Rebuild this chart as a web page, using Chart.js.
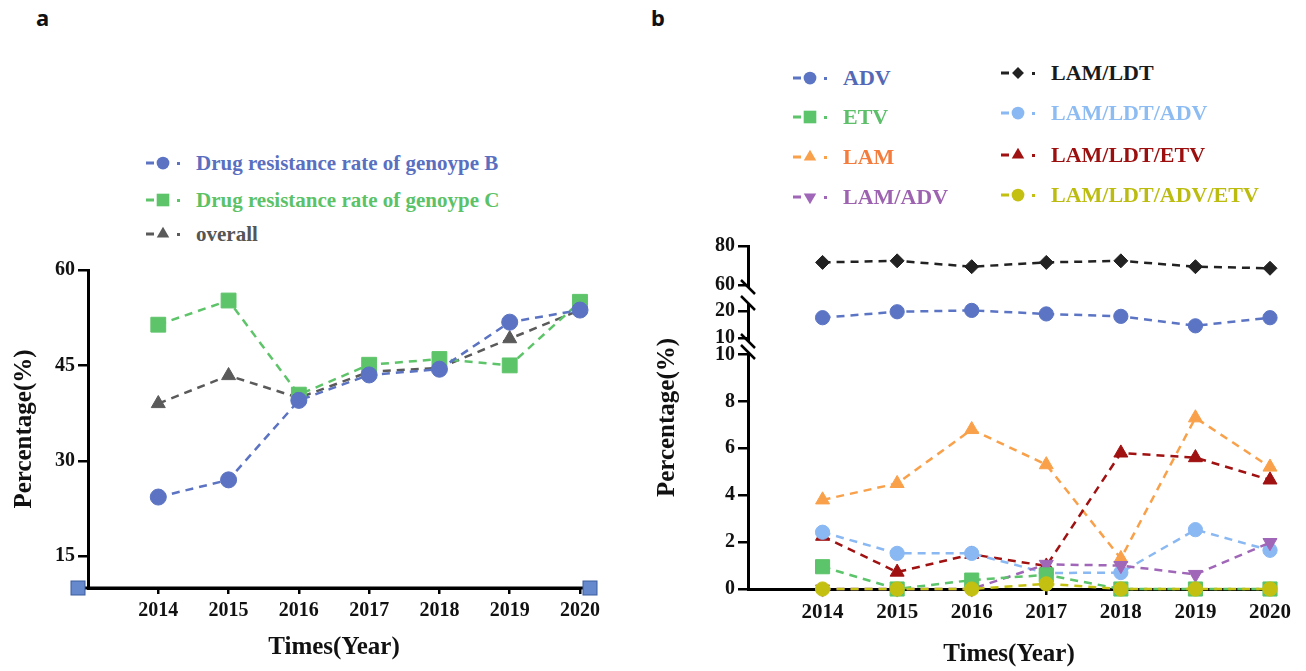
<!DOCTYPE html>
<html>
<head>
<meta charset="utf-8">
<script src="https://cdn.jsdelivr.net/npm/chart.js@4.4.0/dist/chart.umd.min.js"></script>
<style>
  body { margin: 0; width: 1306px; height: 671px; background: #fff; position: relative; overflow: hidden; font-family: "Liberation Serif", "Times New Roman", serif; }
  canvas { position: absolute; }
  .tag { position: absolute; font-family: "Noto Sans", sans-serif; font-weight: bold; font-size: 22px; color: #111; }
  .item { position: absolute; height: 28px; display: flex; align-items: center; white-space: nowrap; font-weight: bold; }
  .item canvas { position: static; margin-right: 4px; }
</style>
</head>
<body>
<div class="tag" style="left:36px;top:2px">a</div>
<div class="tag" style="left:651px;top:2px">b</div>
<canvas id="chartA" width="620" height="421" style="left:0;top:250px"></canvas>
<canvas id="chartB" width="666" height="446" style="left:640px;top:225px"></canvas>
<div id="legendA"></div>
<div id="legendB"></div>
<script>
// x categories (years)
const years = [2014, 2015, 2016, 2017, 2018, 2019, 2020];

// panel a
const genotypeB = [24.3, 27.0, 39.5, 43.5, 44.4, 51.8, 53.7];
const genotypeC = [51.4, 55.2, 40.4, 45.1, 46.0, 45.0, 55.0];
const overall = [39.0, 43.4, 39.9, 44.0, 44.6, 49.2, 53.7];
const yTicksA = [15, 30, 45, 60];

// panel b
const adv = [17.5, 19.7, 20.2, 18.9, 18.0, 14.5, 17.5];
const etv = [0.95, 0, 0.38, 0.6, 0, 0, 0];
const lam = [3.8, 4.5, 6.8, 5.3, 1.3, 7.3, 5.2];
const lamAdv = [0, 0, 0, 1.05, 1.0, 0.62, 1.98];
const lamLdt = [71.6, 72.4, 69.4, 71.6, 72.4, 69.4, 68.6];
const lamLdtAdv = [2.42, 1.52, 1.52, 0.68, 0.7, 2.53, 1.65];
const lamLdtEtv = [2.25, 0.72, 1.48, 0.98, 5.8, 5.6, 4.65];
const lamLdtAdvEtv = [0, 0, 0, 0.22, 0, 0, 0];
const yTicksTop = [60, 80];
const yTicksMid = [10, 20];
const yTicksLow = [0, 2, 4, 6, 8, 10];

const serif = '"Liberation Serif", "Times New Roman", serif';
const boldSerif = (size) => ({ family: serif, weight: 'bold', size: size });
const pts = (vals) => years.map((x, i) => ({ x: x, y: vals[i] }));
const setTicks = (list) => (axis) => { axis.ticks = list.map(v => ({ value: v })); };

// marker radius per point style, so shapes look the same size
const markerSize = { circle: 7.5, rect: 10.5, triangle: 8.5, rectRot: 7 };

function series(label, vals, color, style, scale, extra) {
  const r = markerSize[style] * scale;
  return Object.assign({
    label: label,
    data: pts(vals),
    borderColor: color,
    backgroundColor: color,
    borderWidth: 2.5,
    borderDash: [8, 6],
    pointStyle: style,
    pointRadius: r,
    pointHoverRadius: r,
    pointBorderWidth: 1,
    clip: false,
    tension: 0
  }, extra || {});
}

function xAxis(fontSize, height, titleBottom) {
  return {
    type: 'linear', min: 2013, max: 2020,
    afterBuildTicks: setTicks(years),
    ticks: { callback: v => String(v), font: boldSerif(fontSize), color: '#111', padding: 5, maxRotation: 0, autoSkip: false },
    grid: { drawOnChartArea: false, tickLength: 6, color: '#000', lineWidth: 2.5 },
    border: { color: '#000', width: 3 },
    title: { display: true, text: 'Times(Year)', font: boldSerif(25), color: '#111', padding: { top: 4, bottom: titleBottom } },
    afterFit: (axis) => { axis.height = height; }
  };
}

// panel a: axis end squares
const axisCaps = {
  id: 'axisCaps',
  afterDraw(chart) {
    const { ctx, chartArea } = chart;
    const { left, right, bottom } = chartArea;
    ctx.save();
    ctx.strokeStyle = '#000';
    ctx.lineWidth = 3;
    ctx.beginPath();
    ctx.moveTo(left - 10, bottom);
    ctx.lineTo(right + 10, bottom);
    ctx.stroke();
    [left - 10, right + 10].forEach(x => {
      ctx.fillStyle = '#6688cc';
      ctx.strokeStyle = '#3d5c9e';
      ctx.lineWidth = 1;
      ctx.fillRect(x - 7, bottom - 7, 14, 14);
      ctx.strokeRect(x - 7, bottom - 7, 14, 14);
    });
    ctx.restore();
  }
};

new Chart(document.getElementById('chartA'), {
  type: 'line',
  data: {
    datasets: [
      series('Drug resistance rate of genoype B', genotypeB, '#5b73c2', 'circle', 1.07),
      series('Drug resistance rate of genoype C', genotypeC, '#5ec46a', 'rect', 1),
      series('overall', overall, '#5a5a5a', 'triangle', 0.95)
    ]
  },
  options: {
    responsive: false,
    animation: false,
    layout: { padding: { top: 20, right: 40, left: 0, bottom: 0 } },
    plugins: { legend: { display: false }, tooltip: { enabled: false } },
    scales: {
      x: xAxis(20, 83, 8),
      y: {
        min: 10, max: 60,
        afterBuildTicks: setTicks(yTicksA),
        ticks: { font: boldSerif(20), color: '#111', padding: 3 },
        grid: { drawOnChartArea: false, tickLength: 10, color: '#000', lineWidth: 2.5 },
        border: { color: '#000', width: 3 },
        title: { display: true, text: 'Percentage(%)', font: boldSerif(25), color: '#111', padding: { top: 10 } },
        afterFit: (axis) => { axis.width = 88; }
      }
    }
  },
  plugins: [axisCaps]
});

// panel b: broken y axis
const axisBreaks = {
  id: 'axisBreaks',
  afterDraw(chart) {
    const { ctx, chartArea } = chart;
    const x = chartArea.left;
    const cuts = [[chart.scales.yTop.bottom, 8], [chart.scales.yMid.bottom, 5.5]];
    ctx.save();
    cuts.forEach(([y, half]) => {
      ctx.fillStyle = '#fff';
      ctx.fillRect(x - 3, y - half, 6, half * 2);
      ctx.strokeStyle = '#000';
      ctx.lineWidth = 2.5;
      [y - half, y + half].forEach(yy => {
        ctx.beginPath();
        ctx.moveTo(x - 7, yy - 7);
        ctx.lineTo(x + 7, yy + 7);
        ctx.stroke();
      });
    });
    // shared y title, centred on the whole broken axis
    ctx.translate(28, (chartArea.top + chartArea.bottom) / 2);
    ctx.rotate(-Math.PI / 2);
    ctx.fillStyle = '#111';
    ctx.font = 'bold 25px ' + serif;
    ctx.textAlign = 'center';
    ctx.textBaseline = 'middle';
    ctx.fillText('Percentage(%)', 0, 0);
    ctx.restore();
  }
};

function yPart(min, max, ticks, weight) {
  return {
    position: 'left', stack: 'b', stackWeight: weight, offset: false,
    min: min, max: max,
    afterBuildTicks: setTicks(ticks),
    ticks: { font: boldSerif(20), color: '#111', padding: 3 },
    grid: { drawOnChartArea: false, tickLength: 10, color: '#000', lineWidth: 2.5 },
    border: { color: '#000', width: 3 },
    afterFit: (axis) => { axis.width = 108; }
  };
}

const panelB = [
  series('LAM/LDT/ADV/ETV', lamLdtAdvEtv, '#c4c012', 'circle', 0.95, { yAxisID: 'yLow' }),
  series('ETV', etv, '#5cc46a', 'rect', 0.95, { yAxisID: 'yLow' }),
  series('LAM/ADV', lamAdv, '#a066b8', 'triangle', 0.95, { yAxisID: 'yLow', pointRotation: 180 }),
  series('LAM/LDT/ADV', lamLdtAdv, '#8ab8f2', 'circle', 0.95, { yAxisID: 'yLow' }),
  series('LAM/LDT/ETV', lamLdtEtv, '#a01111', 'triangle', 0.95, { yAxisID: 'yLow' }),
  series('LAM', lam, '#f9a04a', 'triangle', 0.95, { yAxisID: 'yLow' }),
  series('ADV', adv, '#5b74c4', 'circle', 0.95, { yAxisID: 'yMid' }),
  series('LAM/LDT', lamLdt, '#222222', 'rectRot', 1, { yAxisID: 'yTop' })
];

new Chart(document.getElementById('chartB'), {
  type: 'line',
  data: { datasets: panelB },
  options: {
    responsive: false,
    animation: false,
    layout: { padding: { top: 21, right: 36, left: 0, bottom: 0 } },
    plugins: { legend: { display: false }, tooltip: { enabled: false } },
    scales: {
      x: xAxis(21, 82, 1),
      yLow: yPart(0, 10.34, yTicksLow, 242.5),
      yMid: yPart(6.85, 25.9, yTicksMid, 51.5),
      yTop: yPart(54.9, 80, yTicksTop, 49)
    }
  },
  plugins: [axisBreaks]
});

// legends (dash - marker - dot, then label)
function icon(color, style, rotation) {
  const c = document.createElement('canvas');
  c.width = 42; c.height = 28;
  const g = c.getContext('2d');
  g.fillStyle = color;
  g.strokeStyle = color;
  g.fillRect(0, 12.5, 8, 3);
  Chart.helpers.drawPoint(g, { pointStyle: style, rotation: rotation || 0, radius: markerSize[style] * 0.85, borderWidth: 0 }, 17, 14);
  g.fillRect(31, 13, 3, 3);
  return c;
}

function addItem(host, label, marker, textColor, style, rotation, left, cy, size) {
  const d = document.createElement('div');
  d.className = 'item';
  d.style.left = left + 'px';
  d.style.top = (cy - 14) + 'px';
  d.style.fontSize = size + 'px';
  d.style.color = textColor;
  d.appendChild(icon(marker, style, rotation));
  const s = document.createElement('span');
  s.style.marginLeft = '4px';
  s.textContent = label;
  d.appendChild(s);
  host.appendChild(d);
}

const legendA = document.getElementById('legendA');
addItem(legendA, 'Drug resistance rate of genoype B', '#5b73c2', '#5a6fbf', 'circle', 0, 146, 163, 21);
addItem(legendA, 'Drug resistance rate of genoype C', '#5ec46a', '#5cc267', 'rect', 0, 146, 200, 21);
addItem(legendA, 'overall', '#5a5a5a', '#555555', 'triangle', 0, 146, 234, 21);

const legendB = document.getElementById('legendB');
addItem(legendB, 'ADV', '#5b74c4', '#5469b5', 'circle', 0, 793, 78, 22);
addItem(legendB, 'ETV', '#5cc46a', '#5dbf6a', 'rect', 0, 793, 117, 22);
addItem(legendB, 'LAM', '#f9a04a', '#f47c3c', 'triangle', 0, 793, 157, 22);
addItem(legendB, 'LAM/ADV', '#a066b8', '#9d62b0', 'triangle', 180, 793, 197, 22);
addItem(legendB, 'LAM/LDT', '#222222', '#1a1a1a', 'rectRot', 0, 1001, 73, 22);
addItem(legendB, 'LAM/LDT/ADV', '#8ab8f2', '#8dbcf2', 'circle', 0, 1001, 113, 22);
addItem(legendB, 'LAM/LDT/ETV', '#a01111', '#9c0f0f', 'triangle', 0, 1001, 155, 22);
addItem(legendB, 'LAM/LDT/ADV/ETV', '#c4c012', '#bcbc10', 'circle', 0, 1001, 195, 22);
</script>
</body>
</html>
